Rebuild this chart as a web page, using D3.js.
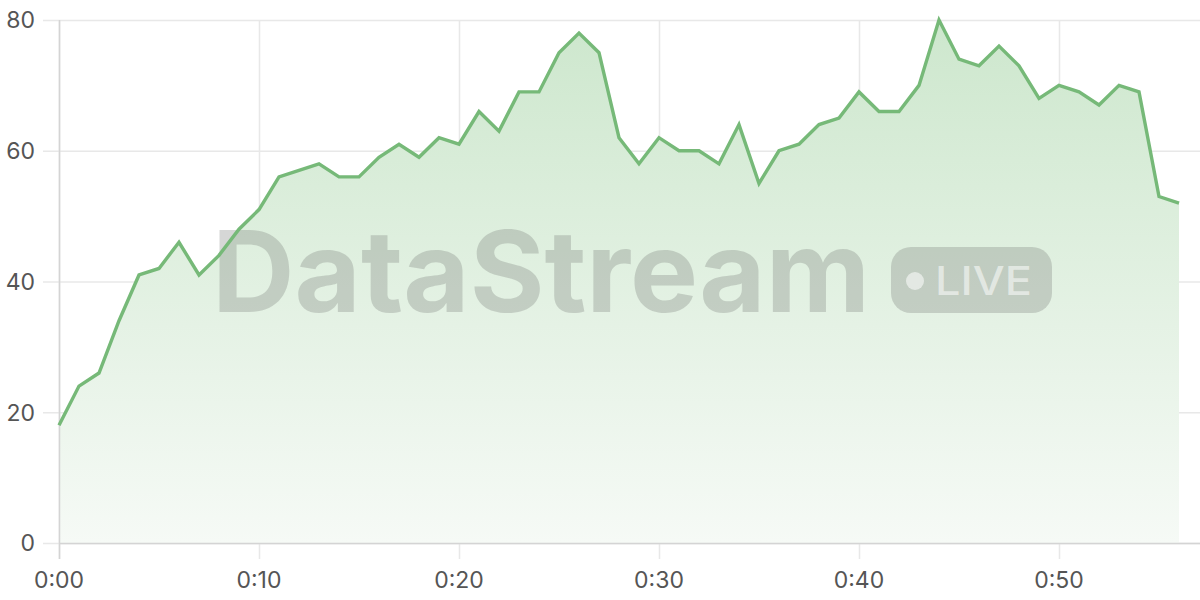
<!DOCTYPE html>
<html>
<head>
<meta charset="utf-8">
<script src="https://cdn.jsdelivr.net/npm/d3@7"></script>
<style>
  html, body { margin: 0; padding: 0; background: #fff; }
  svg { display: block; }
</style>
</head>
<body>
<div id="chart"></div>
<script>
// minutes since start, one reading per minute
const minutes = d3.range(0, 57);
const values = [
  18, 24, 26, 34, 41, 42, 46, 41, 44, 48,
  51, 56, 57, 58, 56, 56, 59, 61, 59, 62,
  61, 66, 63, 69, 69, 75, 78, 75, 62, 58,
  62, 60, 60, 58, 64, 55, 60, 61, 64, 65,
  69, 66, 66, 70, 80, 74, 73, 76, 73, 68,
  70, 69, 67, 70, 69, 53, 52
];
const xTicks = [0, 10, 20, 30, 40, 50];
const yTicks = [0, 20, 40, 60, 80];

const w = 1200;
const h = 600;
const margin = { top: 20, right: 21, bottom: 57, left: 59 };

const data = minutes.map((m, i) => ({ m: m, v: values[i] }));

const svg = d3.select("#chart")
  .append("svg")
  .attr("width", w)
  .attr("height", h);

const x = d3.scaleLinear()
  .domain([0, 56])
  .range([margin.left, w - margin.right]);

const y = d3.scaleLinear()
  .domain([0, 80])
  .range([h - margin.bottom, margin.top]);

const defs = svg.append("defs");
const grad = defs.append("linearGradient")
  .attr("id", "fillGrad")
  .attr("gradientUnits", "userSpaceOnUse")
  .attr("x1", 0).attr("x2", 0)
  .attr("y1", y(80)).attr("y2", y(0));
grad.append("stop").attr("offset", "0%").attr("stop-color", "#cde7cd");
grad.append("stop").attr("offset", "100%").attr("stop-color", "#f6faf6");

// horizontal grid (extends left as tick)
svg.append("g")
  .selectAll("line")
  .data(yTicks)
  .enter()
  .append("line")
  .attr("x1", margin.left - 16)
  .attr("x2", w)
  .attr("y1", (d) => y(d) + 0.5)
  .attr("y2", (d) => y(d) + 0.5)
  .attr("stroke", "#e8e8e8")
  .attr("stroke-width", 1.5);

// vertical grid (extends below as tick)
svg.append("g")
  .selectAll("line")
  .data(xTicks)
  .enter()
  .append("line")
  .attr("x1", (d) => x(d) + 0.5)
  .attr("x2", (d) => x(d) + 0.5)
  .attr("y1", y(80))
  .attr("y2", y(0) + 16)
  .attr("stroke", "#e8e8e8")
  .attr("stroke-width", 1.5);

// area
svg.append("path")
  .datum(data)
  .attr("fill", "url(#fillGrad)")
  .attr("d", d3.area()
    .x((d) => x(d.m))
    .y0(y(0))
    .y1((d) => y(d.v)));

// watermark
const wm = svg.append("g").attr("pointer-events", "none");
wm.append("text")
  .attr("x", 212)
  .attr("y", 312)
  .attr("font-family", "Inter, 'Liberation Sans', sans-serif")
  .attr("font-weight", 700)
  .attr("font-size", 113)
  .attr("textLength", 658)
  .attr("lengthAdjust", "spacingAndGlyphs")
  .attr("fill", "#767a76")
  .attr("fill-opacity", 0.3)
  .text("DataStream");

wm.append("rect")
  .attr("x", 891).attr("y", 247)
  .attr("width", 161).attr("height", 66)
  .attr("rx", 20)
  .attr("fill", "#767a76")
  .attr("fill-opacity", 0.3);
wm.append("circle")
  .attr("cx", 915).attr("cy", 281)
  .attr("r", 9)
  .attr("fill", "#ffffff")
  .attr("fill-opacity", 0.55);
wm.append("text")
  .attr("x", 935)
  .attr("y", 295)
  .attr("font-family", "Inter, 'Liberation Sans', sans-serif")
  .attr("font-weight", 500)
  .attr("font-size", 39)
  .attr("textLength", 97)
  .attr("lengthAdjust", "spacingAndGlyphs")
  .attr("fill", "#ffffff")
  .attr("fill-opacity", 0.55)
  .text("LIVE");

// axis lines
svg.append("line")
  .attr("x1", margin.left + 0.5).attr("x2", margin.left + 0.5)
  .attr("y1", y(80)).attr("y2", y(0) + 16)
  .attr("stroke", "#d4d4d4")
  .attr("stroke-width", 1.5);
svg.append("line")
  .attr("x1", margin.left).attr("x2", w)
  .attr("y1", y(0) + 0.5).attr("y2", y(0) + 0.5)
  .attr("stroke", "#d4d4d4")
  .attr("stroke-width", 1.5);

// line
svg.append("path")
  .datum(data)
  .attr("fill", "none")
  .attr("stroke", "#76b978")
  .attr("stroke-width", 3.4)
  .attr("stroke-linejoin", "miter")
  .attr("d", d3.line()
    .x((d) => x(d.m))
    .y((d) => y(d.v)));

// y labels
svg.append("g")
  .selectAll("text")
  .data(yTicks)
  .enter()
  .append("text")
  .attr("x", 35)
  .attr("y", (d) => y(d))
  .attr("dy", "0.36em")
  .attr("text-anchor", "end")
  .attr("font-family", "Inter, 'Liberation Sans', sans-serif")
  .attr("font-size", 23)
  .attr("fill", "#555")
  .text((d) => d);

// x labels
svg.append("g")
  .selectAll("text")
  .data(xTicks)
  .enter()
  .append("text")
  .attr("x", (d) => x(d))
  .attr("y", 588)
  .attr("text-anchor", "middle")
  .attr("font-family", "Inter, 'Liberation Sans', sans-serif")
  .attr("font-size", 23)
  .attr("fill", "#555")
  .text((d) => "0:" + d3.format("02")(d));
</script>
</body>
</html>
